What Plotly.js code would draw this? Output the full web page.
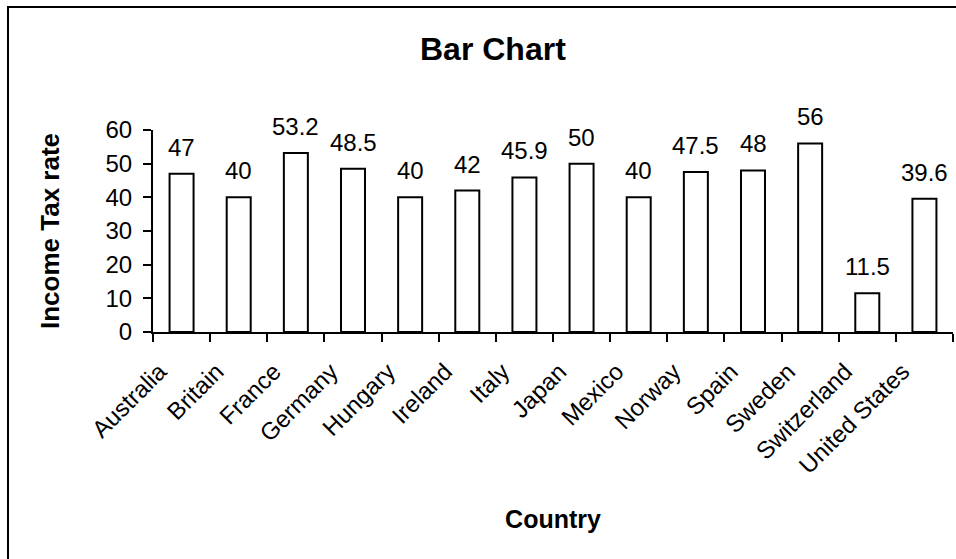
<!DOCTYPE html>
<html>
<head>
<meta charset="utf-8">
<script src="https://cdn.plot.ly/plotly-3.0.1.min.js"></script>
<style>
  html, body { margin: 0; padding: 0; background: #fff; overflow: hidden; }
  #frame { position: absolute; left: 7px; top: 6px; border-left: 2px solid #000; border-top: 2px solid #000; }
  #chart { width: 947px; height: 551px; }
</style>
</head>
<body>
<div id="frame"><div id="chart"></div></div>
<script>
const countries = ["Australia","Britain","France","Germany","Hungary","Ireland","Italy","Japan","Mexico","Norway","Spain","Sweden","Switzerland","United States"];
const taxRates = [47, 40, 53.2, 48.5, 40, 42, 45.9, 50, 40, 47.5, 48, 56, 11.5, 39.6];
const valueLabels = ["47","40","53.2","48.5","40","42","45.9","50","40","47.5","48","56","11.5","39.6"];
const yTicks = [0, 10, 20, 30, 40, 50, 60];

const FONT = "Liberation Sans, Arial, sans-serif";

const trace = {
  type: "bar",
  x: countries,
  y: taxRates,
  marker: { color: "#ffffff", line: { color: "#000000", width: 2 } },
  hoverinfo: "x+y"
};

const annotations = countries.map((c, i) => ({
  x: c, y: taxRates[i], xref: "x", yref: "y",
  text: valueLabels[i], showarrow: false,
  xanchor: "center", yanchor: "bottom", yshift: 11,
  font: { family: FONT, size: 24, color: "#000" }
}));

const layout = {
  width: 947, height: 551,
  margin: { l: 144, r: 3, t: 122, b: 227 },
  paper_bgcolor: "#fff", plot_bgcolor: "#fff",
  showlegend: false,
  bargap: 0.58,
  font: { family: FONT, color: "#000" },
  title: {
    text: "<b>Bar Chart</b>",
    font: { family: FONT, size: 32, color: "#000" },
    xref: "container", yref: "container",
    x: 0.511, xanchor: "center", y: 0.926, yanchor: "middle"
  },
  xaxis: {
    type: "category",
    showline: true, linecolor: "#000", linewidth: 2,
    ticks: "outside", tickson: "boundaries", ticklen: 8, tickwidth: 2, tickcolor: "#000",
    tickangle: -45,
    tickfont: { family: FONT, size: 24, color: "#000" },
    ticklabelstandoff: 14,
    ticklabelshift: -22,
    showgrid: false, zeroline: false,
    title: { text: "<b>Country</b>", font: { family: FONT, size: 25, color: "#000" }, standoff: 33 }
  },
  yaxis: {
    range: [0, 60],
    tickvals: yTicks,
    ticktext: yTicks.map(String),
    showline: true, linecolor: "#000", linewidth: 2,
    ticks: "outside", ticklen: 8, tickwidth: 2, tickcolor: "#000",
    tickfont: { family: FONT, size: 24, color: "#000" },
    ticklabelstandoff: 6,
    showgrid: false, zeroline: false,
    title: { text: "<b>Income Tax rate</b>", font: { family: FONT, size: 26, color: "#000" }, standoff: 38 }
  },
  annotations: annotations
};

Plotly.newPlot("chart", [trace], layout, { displayModeBar: false, responsive: false });
</script>
</body>
</html>
